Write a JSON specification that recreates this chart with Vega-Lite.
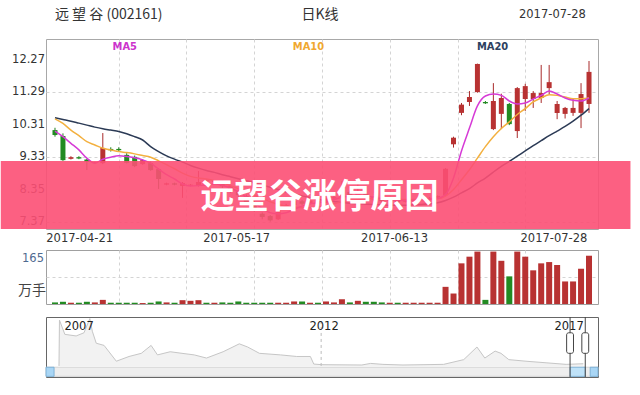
{
  "$schema": "https://vega.github.io/schema/vega-lite/v6.json",
  "padding": {"left": 0, "top": 7, "right": 0, "bottom": 0},
  "background": "#ffffff",
  "bounds": "flush",
  "spacing": 21,
  "config": {
    "font": "DejaVu Sans",
    "view": {"stroke": "#a0a0a0"},
    "axis": {"gridColor": "#d4d4d4", "gridDash": [3, 3], "domain": false, "ticks": false, "labels": false, "title": null}
  },
  "datasets": {
    "k": [
      {"d":"2017-04-21","i":0,"o":10.15,"h":10.22,"l":9.95,"c":10.00,"v":5,"ma5":10.12,"ma10":10.49,"ma20":10.52},
      {"d":"2017-04-24","i":1,"o":9.97,"h":10.05,"l":9.22,"c":9.24,"v":7,"ma5":9.95,"ma10":10.35,"ma20":10.47},
      {"d":"2017-04-25","i":2,"o":9.28,"h":9.36,"l":9.26,"c":9.33,"v":4,"ma5":9.75,"ma10":10.15,"ma20":10.42},
      {"d":"2017-04-26","i":3,"o":9.33,"h":9.36,"l":9.27,"c":9.29,"v":4,"ma5":9.55,"ma10":9.98,"ma20":10.36},
      {"d":"2017-04-27","i":4,"o":9.26,"h":9.28,"l":8.94,"c":9.19,"v":7,"ma5":9.30,"ma10":9.80,"ma20":10.30},
      {"d":"2017-04-28","i":5,"o":9.15,"h":9.19,"l":9.12,"c":9.18,"v":5,"ma5":9.15,"ma10":9.70,"ma20":10.24},
      {"d":"2017-05-02","i":6,"o":9.15,"h":10.06,"l":9.12,"c":9.61,"v":13,"ma5":9.27,"ma10":9.60,"ma20":10.19},
      {"d":"2017-05-03","i":7,"o":9.58,"h":9.63,"l":9.50,"c":9.54,"v":4,"ma5":9.33,"ma10":9.55,"ma20":10.15},
      {"d":"2017-05-04","i":8,"o":9.58,"h":9.63,"l":9.50,"c":9.54,"v":4,"ma5":9.37,"ma10":9.50,"ma20":10.11},
      {"d":"2017-05-05","i":9,"o":9.40,"h":9.45,"l":9.14,"c":9.16,"v":4,"ma5":9.35,"ma10":9.47,"ma20":10.04},
      {"d":"2017-05-08","i":10,"o":9.34,"h":9.38,"l":9.03,"c":9.06,"v":4,"ma5":9.31,"ma10":9.43,"ma20":9.95},
      {"d":"2017-05-09","i":11,"o":9.12,"h":9.27,"l":9.10,"c":9.24,"v":3,"ma5":9.25,"ma10":9.38,"ma20":9.85},
      {"d":"2017-05-10","i":12,"o":9.15,"h":9.20,"l":8.92,"c":8.94,"v":4,"ma5":9.15,"ma10":9.33,"ma20":9.65},
      {"d":"2017-05-11","i":13,"o":8.97,"h":9.00,"l":8.37,"c":8.67,"v":8,"ma5":8.97,"ma10":9.22,"ma20":9.50},
      {"d":"2017-05-12","i":14,"o":8.50,"h":8.56,"l":8.48,"c":8.54,"v":5,"ma5":8.80,"ma10":9.10,"ma20":9.37},
      {"d":"2017-05-15","i":15,"o":8.54,"h":8.56,"l":8.48,"c":8.50,"v":4,"ma5":8.67,"ma10":8.98,"ma20":9.27},
      {"d":"2017-05-16","i":16,"o":8.46,"h":8.58,"l":8.10,"c":8.55,"v":12,"ma5":8.52,"ma10":8.85,"ma20":9.18},
      {"d":"2017-05-17","i":17,"o":8.47,"h":8.52,"l":8.45,"c":8.50,"v":10,"ma5":8.46,"ma10":8.75,"ma20":9.08},
      {"d":"2017-05-18","i":18,"o":8.46,"h":8.91,"l":8.44,"c":8.58,"v":12,"ma5":8.47,"ma10":8.70,"ma20":9.00},
      {"d":"2017-05-19","i":19,"o":8.63,"h":8.66,"l":8.57,"c":8.60,"v":4,"ma5":8.49,"ma10":8.67,"ma20":8.93},
      {"d":"2017-05-22","i":20,"o":8.58,"h":8.64,"l":8.55,"c":8.61,"v":4,"ma5":8.52,"ma10":8.62,"ma20":8.87},
      {"d":"2017-05-23","i":21,"o":8.58,"h":8.62,"l":8.40,"c":8.45,"v":5,"ma5":8.48,"ma10":8.55,"ma20":8.80},
      {"d":"2017-05-24","i":22,"o":8.45,"h":8.50,"l":8.25,"c":8.30,"v":4,"ma5":8.40,"ma10":8.47,"ma20":8.74},
      {"d":"2017-05-25","i":23,"o":8.30,"h":8.35,"l":8.10,"c":8.18,"v":8,"ma5":8.28,"ma10":8.38,"ma20":8.68},
      {"d":"2017-05-26","i":24,"o":8.15,"h":8.20,"l":7.90,"c":7.95,"v":4,"ma5":8.12,"ma10":8.28,"ma20":8.62},
      {"d":"2017-05-31","i":25,"o":7.95,"h":8.00,"l":7.68,"c":7.72,"v":4,"ma5":7.95,"ma10":8.18,"ma20":8.56},
      {"d":"2017-06-01","i":26,"o":7.62,"h":7.66,"l":7.45,"c":7.52,"v":4,"ma5":7.78,"ma10":8.08,"ma20":8.49},
      {"d":"2017-06-02","i":27,"o":7.55,"h":7.58,"l":7.38,"c":7.42,"v":4,"ma5":7.65,"ma10":7.98,"ma20":8.42},
      {"d":"2017-06-05","i":28,"o":7.45,"h":7.82,"l":7.43,"c":7.80,"v":4,"ma5":7.62,"ma10":7.90,"ma20":8.35},
      {"d":"2017-06-06","i":29,"o":7.80,"h":7.92,"l":7.76,"c":7.88,"v":4,"ma5":7.65,"ma10":7.85,"ma20":8.28},
      {"d":"2017-06-07","i":30,"o":7.88,"h":8.05,"l":7.85,"c":8.00,"v":8,"ma5":7.75,"ma10":7.82,"ma20":8.22},
      {"d":"2017-06-08","i":31,"o":8.00,"h":8.04,"l":7.88,"c":7.92,"v":8,"ma5":7.85,"ma10":7.80,"ma20":8.16},
      {"d":"2017-06-09","i":32,"o":7.92,"h":8.06,"l":7.90,"c":8.02,"v":4,"ma5":7.92,"ma10":7.80,"ma20":8.11},
      {"d":"2017-06-12","i":33,"o":8.02,"h":8.05,"l":7.93,"c":7.96,"v":4,"ma5":7.95,"ma10":7.82,"ma20":8.06},
      {"d":"2017-06-13","i":34,"o":7.96,"h":8.12,"l":7.94,"c":8.08,"v":8,"ma5":8.00,"ma10":7.86,"ma20":8.02},
      {"d":"2017-06-14","i":35,"o":8.08,"h":8.16,"l":8.05,"c":8.12,"v":5,"ma5":8.05,"ma10":7.92,"ma20":7.99},
      {"d":"2017-06-15","i":36,"o":8.12,"h":8.61,"l":8.10,"c":8.30,"v":15,"ma5":8.12,"ma10":7.98,"ma20":7.96},
      {"d":"2017-06-16","i":37,"o":8.28,"h":8.32,"l":8.15,"c":8.18,"v":5,"ma5":8.15,"ma10":8.02,"ma20":7.94},
      {"d":"2017-06-19","i":38,"o":8.18,"h":8.60,"l":8.15,"c":8.25,"v":10,"ma5":8.18,"ma10":8.05,"ma20":7.92},
      {"d":"2017-06-20","i":39,"o":8.22,"h":8.25,"l":8.10,"c":8.12,"v":7,"ma5":8.16,"ma10":8.07,"ma20":7.91},
      {"d":"2017-06-21","i":40,"o":8.12,"h":8.15,"l":8.02,"c":8.05,"v":7,"ma5":8.12,"ma10":8.08,"ma20":7.90},
      {"d":"2017-06-22","i":41,"o":8.05,"h":8.08,"l":7.97,"c":8.00,"v":5,"ma5":8.08,"ma10":8.08,"ma20":7.89},
      {"d":"2017-06-23","i":42,"o":8.00,"h":8.06,"l":7.98,"c":8.03,"v":4,"ma5":8.05,"ma10":8.07,"ma20":7.88},
      {"d":"2017-06-26","i":43,"o":8.03,"h":8.05,"l":7.95,"c":7.98,"v":4,"ma5":8.03,"ma10":8.06,"ma20":7.88},
      {"d":"2017-06-27","i":44,"o":7.98,"h":8.04,"l":7.96,"c":8.01,"v":4,"ma5":8.02,"ma10":8.05,"ma20":7.88},
      {"d":"2017-06-28","i":45,"o":8.01,"h":8.07,"l":7.99,"c":8.05,"v":4,"ma5":8.03,"ma10":8.05,"ma20":7.89},
      {"d":"2017-06-29","i":46,"o":8.05,"h":8.10,"l":8.03,"c":8.08,"v":4,"ma5":8.05,"ma10":8.05,"ma20":7.90},
      {"d":"2017-06-30","i":47,"o":8.08,"h":8.12,"l":8.05,"c":8.10,"v":4,"ma5":8.06,"ma10":8.06,"ma20":7.92},
      {"d":"2017-07-03","i":48,"o":8.10,"h":8.17,"l":8.08,"c":8.16,"v":4,"ma5":8.08,"ma10":8.07,"ma20":7.95},
      {"d":"2017-07-04","i":49,"o":8.18,"h":9.00,"l":8.15,"c":8.98,"v":54,"ma5":8.20,"ma10":8.15,"ma20":8.02},
      {"d":"2017-07-05","i":50,"o":9.72,"h":9.95,"l":9.62,"c":9.92,"v":33,"ma5":8.70,"ma10":8.35,"ma20":8.12},
      {"d":"2017-07-06","i":51,"o":10.67,"h":10.97,"l":10.60,"c":10.92,"v":128,"ma5":9.52,"ma10":8.65,"ma20":8.25},
      {"d":"2017-07-07","i":52,"o":11.00,"h":11.33,"l":10.88,"c":11.15,"v":149,"ma5":10.21,"ma10":8.95,"ma20":8.38},
      {"d":"2017-07-10","i":53,"o":11.30,"h":12.16,"l":11.28,"c":12.15,"v":165,"ma5":10.88,"ma10":9.30,"ma20":8.55},
      {"d":"2017-07-11","i":54,"o":11.00,"h":11.03,"l":10.94,"c":10.96,"v":13,"ma5":11.18,"ma10":9.65,"ma20":8.70},
      {"d":"2017-07-12","i":55,"o":10.18,"h":11.57,"l":10.15,"c":11.03,"v":165,"ma5":11.24,"ma10":9.95,"ma20":8.88},
      {"d":"2017-07-13","i":56,"o":10.64,"h":11.25,"l":10.18,"c":11.12,"v":136,"ma5":11.20,"ma10":10.20,"ma20":9.05},
      {"d":"2017-07-14","i":57,"o":10.94,"h":10.97,"l":10.30,"c":10.33,"v":87,"ma5":11.03,"ma10":10.40,"ma20":9.20},
      {"d":"2017-07-17","i":58,"o":10.12,"h":11.45,"l":9.91,"c":11.42,"v":165,"ma5":10.94,"ma10":10.62,"ma20":9.36},
      {"d":"2017-07-18","i":59,"o":11.09,"h":11.55,"l":10.73,"c":11.48,"v":149,"ma5":10.97,"ma10":10.80,"ma20":9.52},
      {"d":"2017-07-19","i":60,"o":11.09,"h":11.33,"l":10.82,"c":11.27,"v":106,"ma5":11.09,"ma10":11.00,"ma20":9.68},
      {"d":"2017-07-20","i":61,"o":11.12,"h":12.12,"l":10.97,"c":11.27,"v":128,"ma5":11.20,"ma10":11.12,"ma20":9.83},
      {"d":"2017-07-21","i":62,"o":11.42,"h":12.12,"l":11.24,"c":11.60,"v":132,"ma5":11.33,"ma10":11.22,"ma20":9.98},
      {"d":"2017-07-24","i":63,"o":10.67,"h":11.03,"l":10.48,"c":10.94,"v":123,"ma5":11.24,"ma10":11.20,"ma20":10.12},
      {"d":"2017-07-25","i":64,"o":10.64,"h":10.85,"l":10.50,"c":10.82,"v":71,"ma5":11.12,"ma10":11.15,"ma20":10.26},
      {"d":"2017-07-26","i":65,"o":10.67,"h":11.09,"l":10.58,"c":10.82,"v":71,"ma5":11.05,"ma10":11.10,"ma20":10.42},
      {"d":"2017-07-27","i":66,"o":10.67,"h":11.57,"l":10.21,"c":11.24,"v":111,"ma5":11.03,"ma10":11.10,"ma20":10.60},
      {"d":"2017-07-28","i":67,"o":10.94,"h":12.24,"l":10.67,"c":11.91,"v":152,"ma5":11.12,"ma10":11.12,"ma20":10.80}
    ],
    "hist": [
      {"t":2006.59,"v":0},{"t":2006.60,"v":145},{"t":2006.71,"v":100},{"t":2006.94,"v":95},{"t":2007.10,"v":105},{"t":2007.22,"v":150},{"t":2007.27,"v":110},{"t":2007.35,"v":72},{"t":2007.51,"v":65},{"t":2007.76,"v":15},{"t":2008.02,"v":30},{"t":2008.27,"v":40},{"t":2008.47,"v":65},{"t":2008.60,"v":35},{"t":2008.86,"v":45},{"t":2009.10,"v":40},{"t":2009.35,"v":35},{"t":2009.60,"v":25},{"t":2009.94,"v":45},{"t":2010.27,"v":70},{"t":2010.44,"v":60},{"t":2010.68,"v":40},{"t":2011.11,"v":35},{"t":2011.44,"v":30},{"t":2011.72,"v":30},{"t":2011.79,"v":6},{"t":2011.95,"v":4},{"t":2012.77,"v":3},{"t":2012.95,"v":8},{"t":2013.20,"v":5},{"t":2013.61,"v":3},{"t":2014.44,"v":5},{"t":2014.85,"v":20},{"t":2015.12,"v":60},{"t":2015.28,"v":25},{"t":2015.49,"v":47},{"t":2015.61,"v":40},{"t":2015.77,"v":20},{"t":2016.12,"v":15},{"t":2016.53,"v":10},{"t":2016.94,"v":5},{"t":2017.29,"v":7}
    ]
  },
  "vconcat": [
    {
      "width": 552,
      "height": 190,
      "view": {"stroke": "#a8a8a8"},
      "data": {"name": "k"},
      "encoding": {
        "x": {"field": "i", "type": "quantitative", "scale": {"domain": [-0.5, 67.5], "nice": false, "zero": false},
              "axis": {"values": [8, 16.5, 25, 33.5, 42, 50.5, 59], "grid": true}}
      },
      "layer": [
        {
          "mark": {"type": "rule", "strokeWidth": 1},
          "encoding": {
            "y": {"field": "l", "type": "quantitative", "scale": {"domain": [7.158, 12.905], "nice": false, "zero": false},
                  "axis": {"values": [7.37, 8.35, 9.33, 10.31, 11.29, 12.27], "grid": true}},
            "y2": {"field": "h"},
            "color": {"condition": {"test": "datum.c >= datum.o", "value": "#a82a2a"}, "value": "#1f7f1f"}
          }
        },
        {
          "mark": {"type": "bar", "size": 5},
          "encoding": {
            "y": {"field": "o", "type": "quantitative"},
            "y2": {"field": "c"},
            "color": {"condition": {"test": "datum.c >= datum.o", "value": "#b83232"}, "value": "#228b22"}
          }
        },
        {
          "mark": {"type": "line", "color": "#2b3a55", "strokeWidth": 1.5, "interpolate": "monotone"},
          "encoding": {"y": {"field": "ma20", "type": "quantitative"}}
        },
        {
          "mark": {"type": "line", "color": "#f3b03f", "strokeWidth": 1.5, "interpolate": "monotone"},
          "encoding": {"y": {"field": "ma10", "type": "quantitative"}}
        },
        {
          "mark": {"type": "line", "color": "#d63ad6", "strokeWidth": 1.5, "interpolate": "monotone"},
          "encoding": {"y": {"field": "ma5", "type": "quantitative"}}
        },
        {
          "data": {"values": [
            {"label": "7.37", "i": -0.5, "p": 7.37},
            {"label": "8.35", "i": -0.5, "p": 8.35},
            {"label": "9.33", "i": -0.5, "p": 9.33},
            {"label": "10.31", "i": -0.5, "p": 10.31},
            {"label": "11.29", "i": -0.5, "p": 11.29},
            {"label": "12.27", "i": -0.5, "p": 12.27}
          ]},
          "mark": {"type": "text", "align": "right", "dx": -6, "fontSize": 11.5, "font": "DejaVu Sans", "color": "#333333"},
          "encoding": {"y": {"field": "p", "type": "quantitative"}, "text": {"field": "label"}}
        },
        {
          "data": {"values": [
            {"label": "MA5", "i": 8.76, "p": 12.663, "g": "ma5"},
            {"label": "MA10", "i": 31.8, "p": 12.663, "g": "ma10"},
            {"label": "MA20", "i": 54.9, "p": 12.663, "g": "ma20"}
          ]},
          "mark": {"type": "text", "fontSize": 11, "fontWeight": "bold", "font": "DejaVu Sans Condensed"},
          "encoding": {
            "y": {"field": "p", "type": "quantitative"},
            "text": {"field": "label"},
            "color": {"condition": [{"test": "datum.g == 'ma5'", "value": "#cc33cc"}, {"test": "datum.g == 'ma10'", "value": "#f0a830"}], "value": "#2c4060"}
          }
        },
        {
          "data": {"values": [{"label": "远 望 谷 (002161)", "i": 0, "p": 13.63}]},
          "mark": {"type": "text", "align": "left", "fontSize": 14, "font": "Noto Sans CJK SC", "color": "#333333"},
          "encoding": {"y": {"field": "p", "type": "quantitative"}, "text": {"field": "label"}}
        },
        {
          "data": {"values": [{"label": "日K线", "i": 33.25, "p": 13.63}]},
          "mark": {"type": "text", "align": "center", "fontSize": 14, "font": "Noto Sans CJK SC", "color": "#333333"},
          "encoding": {"y": {"field": "p", "type": "quantitative"}, "text": {"field": "label"}}
        },
        {
          "data": {"values": [{"label": "2017-07-28", "i": 66.6, "p": 13.63}]},
          "mark": {"type": "text", "align": "right", "fontSize": 11.5, "font": "DejaVu Sans", "color": "#333333"},
          "encoding": {"y": {"field": "p", "type": "quantitative"}, "text": {"field": "label"}}
        },
        {
          "data": {"values": [
            {"label": "2017-04-21", "i": 3.1, "p": 6.856},
            {"label": "2017-05-17", "i": 22.8, "p": 6.856},
            {"label": "2017-06-13", "i": 42.6, "p": 6.856},
            {"label": "2017-07-28", "i": 62.6, "p": 6.856}
          ]},
          "mark": {"type": "text", "fontSize": 11.5, "font": "DejaVu Sans", "color": "#333333"},
          "encoding": {"y": {"field": "p", "type": "quantitative"}, "text": {"field": "label"}}
        },
        {
          "data": {"values": [{"i": -6.8, "i2": 72.2, "p": 7.158, "p2": 9.215}]},
          "mark": {"type": "rect", "color": "#fc4f74", "opacity": 0.9},
          "encoding": {
            "x": {"field": "i", "type": "quantitative"},
            "x2": {"field": "i2"},
            "y": {"field": "p", "type": "quantitative"},
            "y2": {"field": "p2"}
          }
        },
        {
          "data": {"values": [{"label": "远望谷涨停原因", "i": 33.2, "p": 8.096}]},
          "mark": {"type": "text", "fontSize": 34, "fontWeight": "bold", "font": "Noto Sans CJK SC", "color": "#ffffff"},
          "encoding": {"y": {"field": "p", "type": "quantitative"}, "text": {"field": "label"}}
        }
      ]
    },
    {
      "spacing": 13,
      "bounds": "flush",
      "vconcat": [
        {
          "width": 552,
          "height": 54,
          "view": {"stroke": "#a0a0a0"},
          "layer": [
            {
              "data": {"name": "k"},
              "mark": {"type": "bar", "size": 6},
              "encoding": {
                "x": {"field": "i", "type": "quantitative", "scale": {"domain": [-0.5, 67.5], "nice": false, "zero": false},
                      "axis": {"values": [8, 16.5, 25, 33.5, 42, 50.5, 59], "grid": true}},
                "y": {"field": "v", "type": "quantitative", "scale": {"domain": [0, 170], "nice": false},
                      "axis": {"values": [85], "grid": true}},
                "color": {"condition": {"test": "datum.c >= datum.o", "value": "#b83232"}, "value": "#228b22"}
              }
            },
            {
              "data": {"values": [{"label": "165", "i": -0.5, "v": 141.7}]},
              "mark": {"type": "text", "align": "right", "dx": -7, "fontSize": 11.5, "font": "DejaVu Sans", "color": "#4f6a90"},
              "encoding": {
                "x": {"field": "i", "type": "quantitative"},
                "y": {"field": "v", "type": "quantitative"},
                "text": {"field": "label"}
              }
            },
            {
              "data": {"values": [{"label": "万手", "i": -0.5, "v": 40.9}]},
              "mark": {"type": "text", "align": "right", "dx": -5, "fontSize": 14, "font": "Noto Sans CJK SC", "color": "#444444"},
              "encoding": {
                "x": {"field": "i", "type": "quantitative"},
                "y": {"field": "v", "type": "quantitative"},
                "text": {"field": "label"}
              }
            }
          ]
        },
        {
          "width": 552,
          "height": 60,
          "view": {"stroke": "#666666"},
          "encoding": {
            "x": {"field": "t", "type": "quantitative", "scale": {"domain": [2006.325, 2017.59], "nice": false, "zero": false}, "axis": null}
          },
          "layer": [
            {
              "data": {"name": "hist"},
              "mark": {"type": "area", "color": "#ededed", "line": {"color": "#c6c6c6", "strokeWidth": 1}},
              "encoding": {
                "y": {"field": "v", "type": "quantitative", "scale": {"domain": [-35, 155], "nice": false, "zero": false}, "axis": null}
              }
            },
            {
              "data": {"values": [{"t": 2011.94, "v": 0, "v2": 150}]},
              "mark": {"type": "rule", "color": "#bbbbbb", "strokeDash": [3, 3]},
              "encoding": {"y": {"field": "v", "type": "quantitative"}, "y2": {"field": "v2"}}
            },
            {
              "data": {"values": [{"t": 2006.325, "t2": 2017.59, "v": -33, "v2": -4}]},
              "mark": {"type": "rect", "color": "#eeeeee", "stroke": "#cccccc", "strokeWidth": 0.8},
              "encoding": {"x2": {"field": "t2"}, "y": {"field": "v", "type": "quantitative"}, "y2": {"field": "v2"}}
            },
            {
              "data": {"values": [
                {"t": 2006.325, "t2": 2006.49, "v": -33, "v2": -4},
                {"t": 2017.43, "t2": 2017.59, "v": -33, "v2": -4}
              ]},
              "mark": {"type": "rect", "color": "#a9d6f5", "stroke": "#6fa8d0", "strokeWidth": 0.8},
              "encoding": {"x2": {"field": "t2"}, "y": {"field": "v", "type": "quantitative"}, "y2": {"field": "v2"}}
            },
            {
              "data": {"values": [{"t": 2017.02, "t2": 2017.33, "v": -33, "v2": -4}]},
              "mark": {"type": "rect", "color": "#bfe2f8", "stroke": "#6fa8d0", "strokeWidth": 0.8},
              "encoding": {"x2": {"field": "t2"}, "y": {"field": "v", "type": "quantitative"}, "y2": {"field": "v2"}}
            },
            {
              "data": {"values": [{"t": 2017.02}, {"t": 2017.33}]},
              "mark": {"type": "rule", "color": "#444444", "strokeWidth": 1},
              "encoding": {}
            },
            {
              "data": {"values": [
                {"t": 2016.95, "t2": 2017.09, "v": 40, "v2": 105},
                {"t": 2017.26, "t2": 2017.40, "v": 40, "v2": 105}
              ]},
              "mark": {"type": "rect", "color": "#ffffff", "stroke": "#444444", "strokeWidth": 1, "cornerRadius": 2},
              "encoding": {"x2": {"field": "t2"}, "y": {"field": "v", "type": "quantitative"}, "y2": {"field": "v2"}}
            },
            {
              "data": {"values": [
                {"label": "2007", "t": 2007.0, "v": 122},
                {"label": "2012", "t": 2012.0, "v": 122},
                {"label": "2017", "t": 2017.0, "v": 122}
              ]},
              "mark": {"type": "text", "fontSize": 11.5, "font": "DejaVu Sans", "color": "#222222"},
              "encoding": {"y": {"field": "v", "type": "quantitative"}, "text": {"field": "label"}}
            }
          ]
        }
      ]
    }
  ]
}
